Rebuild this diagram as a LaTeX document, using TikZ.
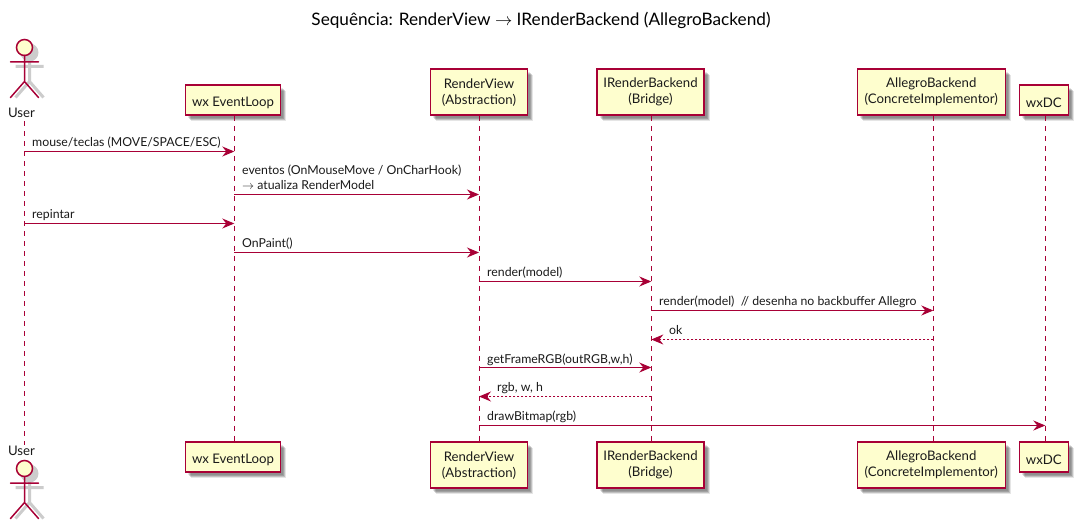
\documentclass[tikz,border=0pt]{standalone}
\usepackage{fontspec}
\setmainfont{Lato}
\usetikzlibrary{arrows.meta,shadows}
\definecolor{pline}{HTML}{A80036}
\definecolor{pfill}{HTML}{FEFECE}
\definecolor{ptext}{HTML}{1A1A1A}
\tikzset{
  x=1pt,y=1pt,
  softshadow/.style={
    general shadow={shadow xshift=2.5pt,shadow yshift=-2.5pt,fill=black,opacity=.10},
    general shadow={shadow xshift=3.5pt,shadow yshift=-3.5pt,fill=black,opacity=.16},
    general shadow={shadow xshift=4.5pt,shadow yshift=-4.5pt,fill=black,opacity=.16},
    general shadow={shadow xshift=5.5pt,shadow yshift=-5.5pt,fill=black,opacity=.10}},
  pbox/.style={draw=pline,fill=pfill,line width=1.5pt,inner sep=0pt,align=center,text=ptext,
    font=\fontsize{13.2}{16.1}\selectfont,softshadow,execute at begin node={\rule{0pt}{15.5pt}}},
  aname/.style={text=ptext,inner sep=0pt,font=\fontsize{13.2}{15.8}\selectfont},
  lifeline/.style={draw=pline,line width=.9pt,dash pattern=on 5pt off 5pt},
  msg/.style={draw=pline,line width=1.1pt,-{Stealth[length=12pt,width=10pt,inset=4pt,fill=pline]}},
  ret/.style={msg,dash pattern=on 2pt off 2pt},
  lbl/.style={anchor=base west,inner sep=0pt,text=ptext,align=left,font=\fontsize{12.3}{15.5}\selectfont},
  actorline/.style={draw=pline,line width=1.5pt,line cap=round},
  actorshadow/.style={draw=black!20,line width=3pt},
}
\newcommand{\actorfig}[2]{%
  \begin{scope}[shift={(#1,#2)}]
    \fill[black!20] (5,-5) circle (9);
    \draw[actorshadow] (5,-13) -- (5,-34) (-9,-19) -- (19,-19) (5,-34) -- (-9,-50) (5,-34) -- (19,-50);
    \draw[actorline,fill=pfill] (0,0) circle (8);
    \draw[actorline] (0,-8) -- (0,-34) (-14,-14.5) -- (14,-14.5) (0,-34) -- (-14,-50) (0,-34) -- (14,-50);
  \end{scope}}
\begin{document}
\begin{tikzpicture}
\useasboundingbox (0,0) rectangle (1078,-529);
\fill[white] (0,0) rectangle (1078,-529);

\node[inner sep=0pt,text=black,font=\fontsize{17.2}{20}\selectfont] (title) at (541,-20.5) {Sequência: RenderView $\rightarrow$ IRenderBackend (AllegroBackend)};

% lifeline x positions
\coordinate (lu) at (24.5,0);
\coordinate (lw) at (234.3,0);
\coordinate (lr) at (479,0);
\coordinate (li) at (651.3,0);
\coordinate (la) at (933.3,0);
\coordinate (ld) at (1045.3,0);

% actors
\actorfig{24.5}{-47.5}
\actorfig{24.5}{-468.5}
\node[aname,anchor=base] (ut) at (21.5,-118) {User};
\node[aname,anchor=base] (ub) at (21.5,-455) {User};

% participants
\node[pbox,minimum width=95.4pt,minimum height=30pt] (wt) at (233,-100.2) {wx EventLoop};
\node[pbox,minimum width=95.4pt,minimum height=30pt] (wb) at (233,-457.2) {wx EventLoop};
\node[pbox,minimum width=97pt,minimum height=46pt] (rt) at (479,-92.2) {RenderView\\(Abstraction)};
\node[pbox,minimum width=97pt,minimum height=46pt] (rb) at (479,-465.2) {RenderView\\(Abstraction)};
\node[pbox,minimum width=107pt,minimum height=46pt] (it) at (650.5,-92.2) {IRenderBackend\\(Bridge)};
\node[pbox,minimum width=107pt,minimum height=46pt] (ib) at (650.5,-465.2) {IRenderBackend\\(Bridge)};
\node[pbox,minimum width=148pt,minimum height=46pt] (at) at (931.3,-92.2) {AllegroBackend\\(ConcreteImplementor)};
\node[pbox,minimum width=148pt,minimum height=46pt] (ab) at (931.3,-465.2) {AllegroBackend\\(ConcreteImplementor)};
\node[pbox,minimum width=49pt,minimum height=30pt] (dt) at (1043.8,-100.2) {wxDC};
\node[pbox,minimum width=49pt,minimum height=30pt] (db) at (1043.8,-457.2) {wxDC};

% lifelines
\draw[lifeline] (lu |- ut.south) ++(0,-3) -- (lu |- ub.north);
\draw[lifeline] (lw |- wt.south) -- (lw |- wb.north);
\draw[lifeline] (lr |- rt.south) -- (lr |- rb.north);
\draw[lifeline] (li |- it.south) -- (li |- ib.north);
\draw[lifeline] (la |- at.south) -- (la |- ab.north);
\draw[lifeline] (ld |- dt.south) -- (ld |- db.north);

% messages
\coordinate (m1) at (0,-151.5);
\coordinate (m2) at (0,-194.5);
\coordinate (m3) at (0,-223.5);
\coordinate (m4) at (0,-252.5);
\coordinate (m5) at (0,-281.5);
\coordinate (m6) at (0,-310.5);
\coordinate (m7) at (0,-339.5);
\coordinate (m8) at (0,-367.5);
\coordinate (m9) at (0,-396.5);
\coordinate (m10) at (0,-425.5);

\draw[msg] (lu |- m1) -- (lw |- m1);
\node[lbl] (t1) at (32,-146.5) {mouse/teclas (MOVE/SPACE/ESC)};
\draw[msg] (lw |- m2) -- (lr |- m2);
\node[lbl] (t2) at (242,-190) {eventos (OnMouseMove / OnCharHook)\\$\rightarrow$ atualiza RenderModel};
\draw[msg] (lu |- m3) -- (lw |- m3);
\node[lbl] (t3) at (32,-218.5) {repintar};
\draw[msg] (lw |- m4) -- (lr |- m4);
\node[lbl] (t4) at (242,-247.5) {OnPaint()};
\draw[msg] (lr |- m5) -- (li |- m5);
\node[lbl] (t5) at (487,-276.5) {render(model)};
\draw[msg] (li |- m6) -- (la |- m6);
\node[lbl] (t6) at (659,-305.5) {render(model)\ \ // desenha no backbuffer Allegro};
\draw[ret] (la |- m7) -- (li |- m7);
\node[lbl] (t7) at (669,-334.5) {ok};
\draw[msg] (lr |- m8) -- (li |- m8);
\node[lbl] (t8) at (487,-363.5) {getFrameRGB(outRGB,w,h)};
\draw[ret] (li |- m9) -- (lr |- m9);
\node[lbl] (t9) at (497,-391.5) {rgb, w, h};
\draw[msg] (lr |- m10) -- (ld |- m10);
\node[lbl] (t10) at (487,-420.5) {drawBitmap(rgb)};
\end{tikzpicture}
\end{document}
